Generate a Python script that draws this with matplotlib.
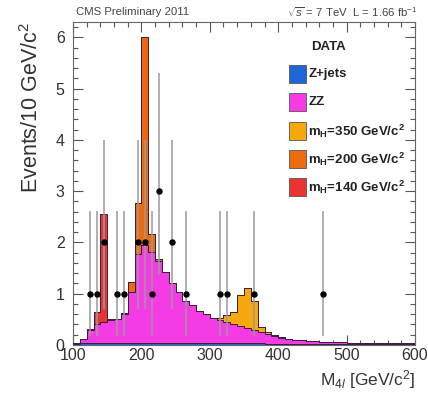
import numpy as np
import matplotlib
matplotlib.use("Agg")
import matplotlib.pyplot as plt
from matplotlib.patches import Rectangle
from matplotlib.ticker import MultipleLocator

plt.rcParams['font.family'] = ['Liberation Sans', 'DejaVu Sans']
plt.rcParams['mathtext.fontset'] = 'custom'
plt.rcParams['mathtext.rm'] = 'Liberation Sans'
plt.rcParams['mathtext.it'] = 'Liberation Sans:italic'
plt.rcParams['mathtext.bf'] = 'Liberation Sans:bold'

# ---- data ----
edges = np.arange(100, 601, 10)  # 10 GeV bins, 100..600

zjets = [0.02, 0.03, 0.04, 0.04, 0.04, 0.04, 0.04, 0.04, 0.04, 0.04,
         0.04, 0.04, 0.04, 0.04, 0.04, 0.04, 0.04, 0.04, 0.04, 0.03,
         0.03, 0.03, 0.03, 0.03, 0.03, 0.03, 0.03, 0.03, 0.02, 0.02,
         0.02, 0.02, 0.02, 0.02, 0.02, 0.02, 0.02, 0.02, 0.02, 0.02,
         0.02, 0.02, 0.02, 0.02, 0.02, 0.02, 0.02, 0.02, 0.02, 0.02]

zz = [0.01, 0.09, 0.26, 0.36, 0.41, 0.44, 0.46, 0.57, 1.00, 1.74,
      1.92, 1.78, 1.59, 1.39, 1.17, 1.00, 0.82, 0.74, 0.62, 0.57,
      0.50, 0.46, 0.42, 0.38, 0.34, 0.30, 0.26, 0.22, 0.19, 0.15,
      0.12, 0.10, 0.08, 0.07, 0.06, 0.05, 0.045, 0.04, 0.035, 0.03,
      0.028, 0.025, 0.023, 0.02, 0.018, 0.016, 0.014, 0.012, 0.01, 0.01]

mh350 = [0, 0, 0, 0, 0, 0, 0, 0, 0, 0,
         0, 0, 0, 0, 0, 0, 0, 0, 0, 0,
         0, 0.03, 0.13, 0.24, 0.61, 0.79, 0.56, 0.10, 0.04, 0.03,
         0.02, 0, 0, 0, 0, 0, 0, 0, 0, 0,
         0, 0, 0, 0, 0, 0, 0, 0, 0, 0]

mh200 = [0, 0, 0, 0, 0, 0, 0, 0.02, 0.19, 0.98,
         4.04, 0.35, 0.04, 0, 0, 0, 0, 0, 0, 0,
         0, 0, 0, 0, 0, 0, 0, 0, 0, 0,
         0, 0, 0, 0, 0, 0, 0, 0, 0, 0,
         0, 0, 0, 0, 0, 0, 0, 0, 0, 0]

mh140 = [0, 0, 0.02, 0.25, 2.10, 0.03, 0, 0, 0, 0,
         0, 0, 0, 0, 0, 0, 0, 0, 0, 0,
         0, 0, 0, 0, 0, 0, 0, 0, 0, 0,
         0, 0, 0, 0, 0, 0, 0, 0, 0, 0,
         0, 0, 0, 0, 0, 0, 0, 0, 0, 0]

data_x = [125, 135, 145, 165, 175, 195, 205, 215, 225, 245, 265, 315, 325, 365, 465]
data_n = [1, 1, 2, 1, 1, 2, 2, 1, 3, 2, 1, 1, 1, 1, 1]
data_err_lo = [0.83, 0.83, 1.29, 0.83, 0.83, 1.29, 1.29, 0.83, 1.63, 1.29, 0.83, 0.83, 0.83, 0.83, 0.83]
data_err_hi = [1.62, 1.62, 2.00, 1.62, 1.62, 2.00, 2.00, 1.62, 2.30, 2.00, 1.62, 1.62, 1.62, 1.62, 1.62]

labels = ['Z+jets', 'ZZ', r'm$_\mathbf{H}$=350 GeV/c$^\mathbf{2}$',
          r'm$_\mathbf{H}$=200 GeV/c$^\mathbf{2}$', r'm$_\mathbf{H}$=140 GeV/c$^\mathbf{2}$']
colors = ['#1f66d6', '#f53be3', '#f8a80f', '#ec6a10', '#ea3432']

# ---- figure ----
fig = plt.figure(figsize=(4.28, 3.94), dpi=100)
ax = fig.add_axes([73/428, 49/394, 342/428, 323/394])

series = [zjets, zz, mh350, mh200, mh140]
bottom = np.zeros(len(edges) - 1)
for vals, col in zip(series, colors):
    top = bottom + np.asarray(vals, dtype=float)
    ax.stairs(top, edges, baseline=bottom, fill=True, color=col, zorder=2)
    bottom = top
# outlines
bottom = np.zeros(len(edges) - 1)
for vals in series:
    top = bottom + np.asarray(vals, dtype=float)
    ax.stairs(top, edges, baseline=None, fill=False, color='#3a2040', lw=0.7, zorder=3)
    bottom = top

ax.errorbar(data_x, data_n, yerr=[data_err_lo, data_err_hi], fmt='o', color='black',
            ecolor='#9a9a9a', elinewidth=1.1, markersize=3.6, capsize=0, zorder=4)

ax.set_xlim(100, 600)
ax.set_ylim(0, 6.3)
ax.xaxis.set_major_locator(MultipleLocator(100))
ax.xaxis.set_minor_locator(MultipleLocator(20))
ax.yaxis.set_major_locator(MultipleLocator(1))
ax.yaxis.set_minor_locator(MultipleLocator(0.2))
ax.tick_params(which='both', direction='in', top=True, right=True, width=0.8, colors='#555555',
               labelcolor='#333333')
ax.tick_params(which='major', length=7, labelsize=11.5)
ax.tick_params(which='minor', length=3.5)
ax.tick_params(axis='x', pad=2)
ax.tick_params(axis='y', pad=6)
for sp in ax.spines.values():
    sp.set_color('#666666')
    sp.set_linewidth(0.8)

ax.set_xlabel(r'M$_{4l}$ [GeV/c$^2$]', fontsize=12.5, loc='right', color='#333333', labelpad=4)
ax.set_ylabel(r'Events/10 GeV/c$^2$', fontsize=15.5, loc='top', color='#333333', labelpad=9)

fig.text(76/428, 1 - 12/394, 'CMS Preliminary 2011', fontsize=8.2, color='#444444',
         ha='left', va='center')
fig.text(417/428, 1 - 12/394, r'$\sqrt{s}$ = 7 TeV  L = 1.66 fb$^{-1}$', fontsize=8.2,
         color='#444444', ha='right', va='center')

# ---- legend ----
box_x0 = 0.632
box_w = 0.05
box_h = 0.056
ys = [0.839, 0.751, 0.663, 0.576, 0.488]
ax.text(0.695, 0.923, 'DATA', transform=ax.transAxes, fontsize=9.5, fontweight='bold',
        ha='left', va='center', color='#222222', zorder=6)
for lab, col, yc in zip(labels, colors, ys):
    ax.add_patch(Rectangle((box_x0, yc - box_h/2), box_w, box_h, transform=ax.transAxes,
                           facecolor=col, edgecolor='#555555', lw=0.6, zorder=6))
    ax.text(box_x0 + box_w + 0.006, yc, lab, transform=ax.transAxes, fontsize=9.5,
            fontweight='bold', ha='left', va='center', color='#222222', zorder=6)

fig.savefig('out.png', dpi=100, facecolor='white')
